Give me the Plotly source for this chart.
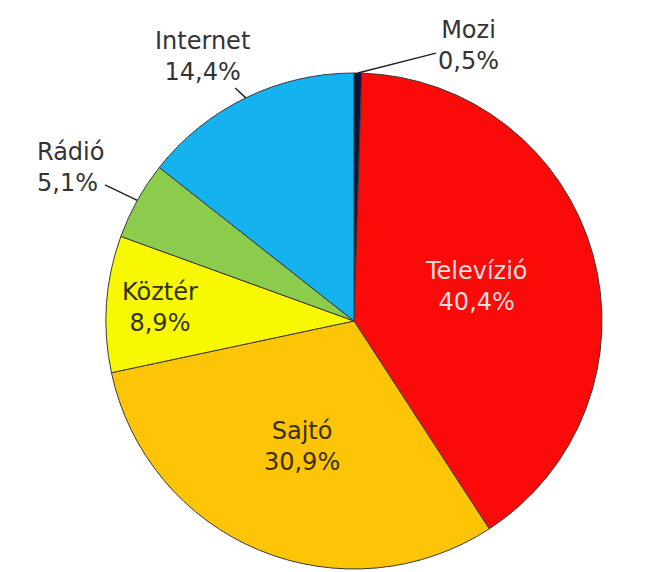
import math
import plotly.graph_objects as go

# Media share, clockwise from 12 o'clock
labels = ["Mozi", "Televízió", "Sajtó", "Köztér", "Rádió", "Internet"]
values = [0.5, 40.4, 30.9, 8.9, 5.1, 14.4]
colors = ["#12123a", "#fb0a0a", "#fdc505", "#f8f800", "#8ccc4c", "#14b2ee"]
text_colors = ["#333333", "#f4dcdc", "#3a3000", "#333300", "#333333", "#333333"]
outside = {"Mozi", "Rádió", "Internet"}

W, H = 663, 572
FONT = "DejaVu Sans, Verdana, sans-serif"

# pie geometry (pixels, page body adds an 8px offset)
cx, cy, R = 346, 313, 248
dom_x = [(cx - R) / W, (cx + R) / W]
dom_y = [1 - (cy + R) / H, 1 - (cy - R) / H]


def fmt(v):
    return str(v).replace(".", ",") + "%"


texts = ["" if l in outside else f"{l}<br>{fmt(v)}" for l, v in zip(labels, values)]

fig = go.Figure(go.Pie(
    labels=labels,
    values=values,
    text=texts,
    textinfo="text",
    textposition="inside",
    insidetextorientation="horizontal",
    sort=False,
    direction="clockwise",
    rotation=0,
    marker=dict(colors=colors, line=dict(color="#3a3a3a", width=1)),
    textfont=dict(family=FONT, size=24, color=text_colors),
    domain=dict(x=dom_x, y=dom_y),
    showlegend=False,
    hoverinfo="label+value",
))

# outside labels with leader lines to the slice edge
label_pos = {"Mozi": (460, 37), "Rádió": (62, 160), "Internet": (194, 49)}
total = sum(values)
cum = 0
for l, v in zip(labels, values):
    theta = math.radians(360 * (cum + v / 2) / total)
    cum += v
    if l not in outside:
        continue
    tx = cx + R * math.sin(theta)
    ty = cy - R * math.cos(theta)
    lx, ly = label_pos[l]
    fig.add_annotation(
        x=tx / W, y=1 - ty / H, xref="paper", yref="paper",
        ax=lx - tx, ay=ly - ty,
        text=f"{l}<br>{fmt(v)}",
        showarrow=True, arrowhead=0, arrowwidth=1.5, arrowcolor="#222222",
        font=dict(family=FONT, size=24, color="#333333"),
        align="left" if l == "Rádió" else "center",
    )

fig.update_layout(
    width=W,
    height=H,
    margin=dict(l=0, r=0, t=0, b=0),
    paper_bgcolor="white",
    uniformtext=dict(minsize=24, mode="show"),
)

fig.write_html("out.html")
